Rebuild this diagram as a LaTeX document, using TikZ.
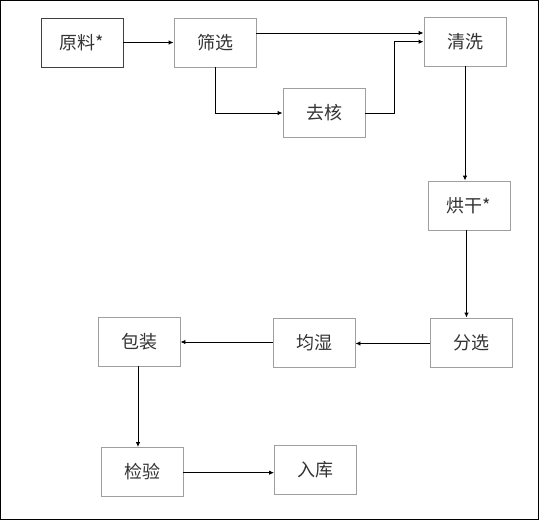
\documentclass[tikz,border=0pt]{standalone}
\usepackage{fontspec}
\setmainfont{Noto Sans CJK SC}
\usetikzlibrary{arrows.meta}
\begin{document}
\begin{tikzpicture}[x=1pt,y=-1pt,
  stepbox/.style={draw=gray!75,line width=0.9pt,minimum width=82pt,minimum height=49pt,inner sep=0pt,font=\fontsize{18}{20}\selectfont,text=black!80},
  firstbox/.style={stepbox,draw=black!75},
  flow/.style={draw=black,line width=0.9pt,-{Latex[length=5pt,width=4.5pt]}}]
\useasboundingbox (0,0) rectangle (539,520);
\draw[line width=1pt] (0.5,0.5) rectangle (538.5,519.5);
\node[firstbox] (yl) at (82,42.5) {原料*};
\node[stepbox] (sx) at (215,42.5) {筛选};
\node[stepbox] (qx) at (465,41.5) {清洗};
\node[stepbox] (qh) at (324,113) {去核};
\node[stepbox] (hg) at (469,205.5) {烘干*};
\node[stepbox] (fx) at (471,342.5) {分选};
\node[stepbox] (js) at (314,342.5) {均湿};
\node[stepbox] (bz) at (139,341.5) {包装};
\node[stepbox] (jy) at (142,472) {检验};
\node[stepbox] (rk) at (315.5,470) {入库};
\coordinate (a1) at (215,113);
\coordinate (a2) at (394,113);
\coordinate (a3) at (394,41.7);
\draw[flow] (yl.east) -- (sx.west);
\draw[flow] (sx.east |- 0,33) -- (qx.west |- 0,33);
\draw[flow] (sx.south -| a1) -- (a1) -- (qh.west |- a1);
\draw[flow] (qh.east |- a2) -- (a2) -- (a3) -- (qx.west |- a3);
\draw[flow] (qx.south -| 465,0) -- (hg.north -| 465,0);
\draw[flow] (hg.south -| 466.5,0) -- (fx.north -| 466.5,0);
\draw[flow] (fx.west |- 0,343.5) -- (js.east |- 0,343.5);
\draw[flow] (js.west |- 0,342) -- (bz.east |- 0,342);
\draw[flow] (bz.south -| 138,0) -- (jy.north -| 138,0);
\draw[flow] (jy.east |- 0,472.7) -- (rk.west |- 0,472.7);
\end{tikzpicture}
\end{document}
